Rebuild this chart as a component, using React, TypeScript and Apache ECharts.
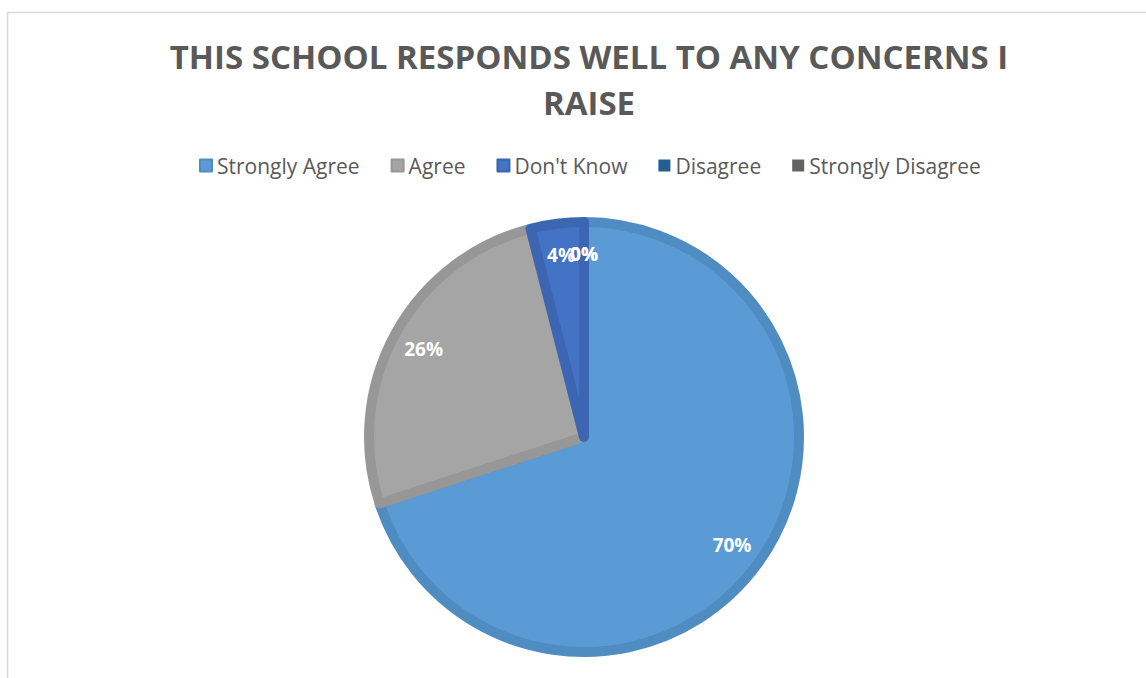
import React, { useEffect, useRef } from "react";
import * as echarts from "echarts";

const titleText = "THIS SCHOOL RESPONDS WELL TO ANY CONCERNS I\nRAISE";
const categories = ["Strongly Agree", "Agree", "Don't Know", "Disagree", "Strongly Disagree"];
const percents = [70, 26, 4, 0, 0];
const fillColors = ["#5B9BD5", "#A5A5A5", "#4472C4", "#255E91", "#636363"];
const borderColors = ["#4E8CC2", "#979797", "#3D66B2", "#215483", "#595959"];

export default function App() {
  const ref = useRef<HTMLDivElement>(null);
  useEffect(() => {
    if (!ref.current) return;
    const chart = echarts.init(ref.current, null, { renderer: "svg" });
    const cx = 584;
    const cy = 437;
    chart.setOption({
      animation: false,
      backgroundColor: "#FFFFFF",
      title: {
        text: titleText,
        left: cx,
        top: 28,
        textAlign: "center",
        textStyle: {
          fontFamily: "Open Sans",
          fontWeight: "bold",
          fontSize: 33,
          lineHeight: 46,
          color: "#595959",
        },
      },
      legend: {
        data: categories,
        top: 150,
        left: 194,
        itemWidth: 12,
        itemHeight: 12,
        itemGap: 31,
        icon: "rect",
        textStyle: { fontFamily: "Open Sans", fontSize: 21, color: "#595959" },
        selectedMode: false,
      },
      graphic: [
        {
          type: "rect",
          shape: { x: 7.5, y: 12.5, width: 1200, height: 700 },
          style: { fill: "none", stroke: "#D9D9D9", lineWidth: 1.5 },
          silent: true,
        },
      ],
      series: [
        {
          type: "pie",
          name: "main",
          center: [cx, cy],
          radius: 215,
          startAngle: 90,
          clockwise: true,
          label: { show: false },
          labelLine: { show: false },
          emphasis: { disabled: true },
          data: categories.map((c, i) => ({
            name: c,
            value: percents[i],
            itemStyle: {
              color: fillColors[i],
              borderColor: borderColors[i],
              borderWidth: percents[i] === 0 ? 0 : 10,
              borderJoin: "round",
            },
          })),
        },
        {
          type: "pie",
          name: "labels",
          center: [cx, cy],
          radius: [140, 220],
          startAngle: 90,
          clockwise: true,
          minShowLabelAngle: 0,
          silent: true,
          labelLayout: { hideOverlap: false },
          itemStyle: { color: "rgba(0,0,0,0)", borderWidth: 0 },
          label: {
            show: true,
            position: "inside",
            fontFamily: "Open Sans",
            fontWeight: "bold",
            fontSize: 19,
            color: "#FFFFFF",
            formatter: (p: any) => `${p.value}%`,
          },
          labelLine: { show: false },
          emphasis: { disabled: true },
          data: categories.map((c, i) => ({ name: c, value: percents[i] })),
        },
      ],
    });
    return () => chart.dispose();
  }, []);
  return (
    <div
      ref={ref}
      style={{ position: "fixed", left: 0, top: 0, width: 1146, height: 678 }}
    />
  );
}
